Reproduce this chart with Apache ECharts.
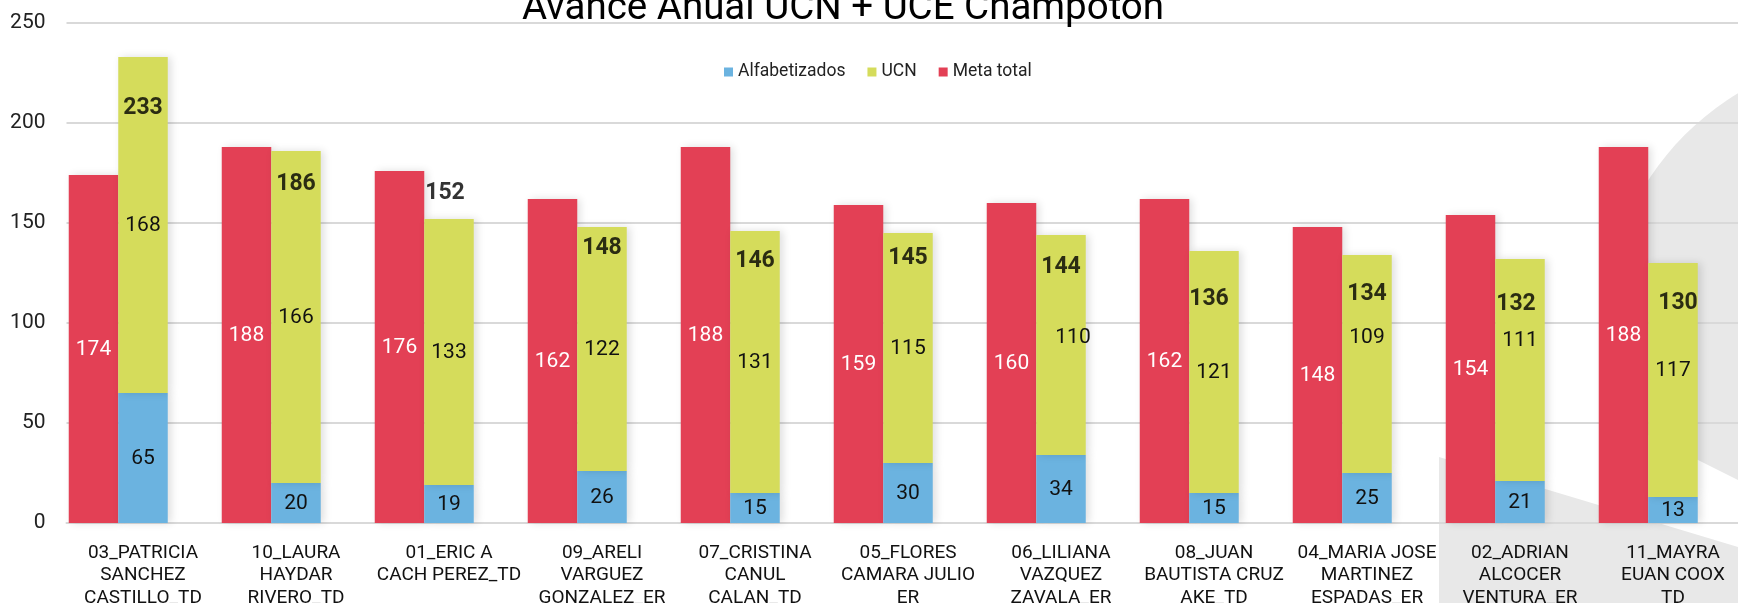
<!DOCTYPE html>
<html>
<head>
<meta charset="utf-8">
<title>Avance Anual UCN + UCE Champotón</title>
<script src="https://cdn.jsdelivr.net/npm/echarts@6/dist/echarts.min.js"></script>
<style>
    html, body { margin: 0; padding: 0; background: #fff; }
    #grafica { width: 1738px; height: 603px; }
</style>
</head>
<body>
<div id="grafica"></div>
<script>
// datos
var categorias = [
    '03_PATRICIA\nSANCHEZ\nCASTILLO_TD',
    '10_LAURA\nHAYDAR\nRIVERO_TD',
    '01_ERIC A\nCACH PEREZ_TD',
    '09_ARELI\nVARGUEZ\nGONZALEZ_ER',
    '07_CRISTINA\nCANUL\nCALAN_TD',
    '05_FLORES\nCAMARA JULIO\nER',
    '06_LILIANA\nVAZQUEZ\nZAVALA_ER',
    '08_JUAN\nBAUTISTA CRUZ\nAKE_TD',
    '04_MARIA JOSE\nMARTINEZ\nESPADAS_ER',
    '02_ADRIAN\nALCOCER\nVENTURA_ER',
    '11_MAYRA\nEUAN COOX\nTD'
];
var alfabetizados = [65, 20, 19, 26, 15, 30, 34, 15, 25, 21, 13];
var ucn = [168, 166, 133, 122, 131, 115, 110, 121, 109, 111, 117];
var metaTotal = [174, 188, 176, 162, 188, 159, 160, 162, 148, 154, 188];
var ejeMin = 0;
var ejeMax = 250;
var ejePaso = 50;

// etiquetas movidas a mano en el original (px)
var movTotal = [[0, 51], [0, 33], [-4, -26], [0, 21], [0, 30], [0, 25], [0, 32], [-5, 48], [0, 39], [-4, 45], [5, 40]];
var movUcn = [[0, 1], [0, 1], [0, 1], [0, 1], [0, 1], [0, 1], [12, -7], [0, 1], [0, -26], [0, -29], [0, -9]];

var totales = alfabetizados.map(function (v, i) { return v + ucn[i]; });

var sombra = {
    shadowBlur: 8,
    shadowOffsetX: 3,
    shadowColor: 'rgba(0, 0, 0, 0.13)'
};

function conSombra(color) {
    var s = { color: color };
    for (var k in sombra) s[k] = sombra[k];
    return s;
}

var dom = document.getElementById('grafica');
var myChart = echarts.init(dom);

var option = {
    animation: false,
    backgroundColor: '#fff',
    textStyle: { fontFamily: 'Roboto, "Liberation Sans", sans-serif' },
    title: {
        text: 'Avance Anual UCN + UCE Champotón',
        left: 838,
        top: -15,
        textAlign: 'center',
        textStyle: { fontSize: 38.5, fontWeight: 'normal', color: '#000' }
    },
    legend: {
        data: ['Alfabetizados', 'UCN', 'Meta total'],
        left: 719,
        top: 58,
        icon: 'rect',
        itemWidth: 9,
        itemHeight: 9,
        itemGap: 22,
        textStyle: { fontSize: 17.5, color: '#222' }
    },
    grid: {
        left: 66.5,
        top: 23,
        width: 1683,
        height: 500,
        outerBoundsMode: 'none'
    },
    graphic: [
        { type: 'circle', z: -10, silent: true, shape: { cx: 1880, cy: 330, r: 276 }, style: { fill: '#e8e8e8' } },
        { type: 'polygon', z: -9, silent: true, shape: { points: [[1560, 391], [1738, 480], [1738, 603], [1560, 603]] }, style: { fill: '#fff' } },
        { type: 'polygon', z: -8, silent: true, shape: { points: [[1439, 457], [1738, 547], [1738, 603], [1439, 603]] }, style: { fill: '#e8e8e8' } }
    ],
    xAxis: {
        type: 'category',
        data: categorias,
        axisLine: { show: true, lineStyle: { color: '#d9d9d9', width: 2 } },
        axisTick: { show: false },
        axisLabel: {
            interval: 0,
            margin: 18.5,
            fontSize: 19,
            lineHeight: 22.5,
            color: '#111'
        }
    },
    yAxis: {
        type: 'value',
        min: ejeMin,
        max: ejeMax,
        interval: ejePaso,
        axisLine: { show: false },
        axisTick: { show: false },
        axisLabel: { fontSize: 21, color: '#222', margin: 21 },
        splitLine: { lineStyle: { color: '#d9d9d9', width: 2 } }
    },
    series: [
        {
            name: 'Meta total',
            type: 'bar',
            barWidth: 49.5,
            barGap: '0%',
            data: metaTotal,
            itemStyle: conSombra('#E34055'),
            label: { show: true, position: 'inside', color: '#fff', fontSize: 21, offset: [0, 1] }
        },
        {
            name: 'Alfabetizados',
            type: 'bar',
            stack: 'avance',
            barWidth: 49.5,
            data: alfabetizados,
            itemStyle: conSombra('#6BB3E0'),
            label: { show: true, position: 'inside', color: '#111', fontSize: 21, offset: [0, 1] }
        },
        {
            name: 'UCN',
            type: 'bar',
            stack: 'avance',
            barWidth: 49.5,
            data: ucn.map(function (v, i) {
                return { value: v, label: { offset: movUcn[i] } };
            }),
            itemStyle: conSombra('#D5DC5B'),
            label: { show: true, position: 'inside', color: '#111', fontSize: 21 }
        },
        {
            // hueco vacio a la derecha de cada grupo, como en el original
            name: 'hueco',
            type: 'bar',
            barWidth: 49.5,
            silent: true,
            data: categorias.map(function () { return '-'; })
        },
        {
            name: 'Total',
            type: 'scatter',
            symbolSize: 0,
            z: 10,
            data: totales.map(function (v, i) {
                return { value: v, label: { offset: movTotal[i] } };
            }),
            label: {
                show: true,
                position: 'inside',
                color: '#000',
                fontSize: 23,
                fontWeight: 'bold'
            }
        }
    ]
};

myChart.setOption(option);
window.onresize = function () {
    myChart.resize();
};
</script>
</body>
</html>
